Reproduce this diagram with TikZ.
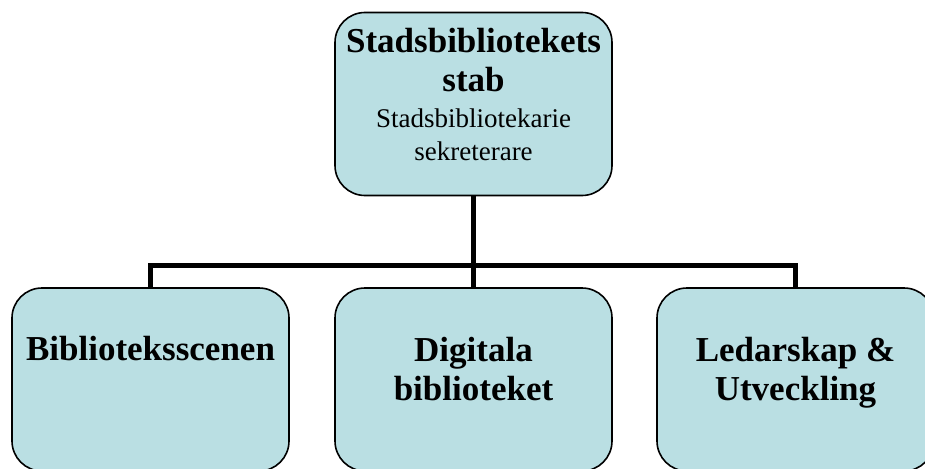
\documentclass[tikz,border=0pt]{standalone}
\usepackage{fontspec}
\setmainfont{Liberation Serif}
\definecolor{boxfill}{HTML}{BADFE3}
\begin{document}
\begin{tikzpicture}[x=1pt,y=-1pt,
  box/.style={draw=black, line width=1.6pt, fill=boxfill, rounded corners=30pt,
    minimum width=277pt, minimum height=183pt, inner sep=0pt},
  conn/.style={line width=5pt, draw=black},
  head/.style={font=\fontsize{35}{39}\selectfont\bfseries, align=center, inner sep=0pt, anchor=base},
  sub/.style={font=\fontsize{27}{33}\selectfont, align=center, inner sep=0pt, anchor=base}]
\useasboundingbox (0,0) rectangle (925,468);
\clip (0,0) rectangle (925,468);
% boxes
\node[box] (top) at (473.5,104) {};
\node[box] (lft) at (150.5,379.5) {};
\node[box] (mid) at (473.5,379.5) {};
\node[box] (rgt) at (795.5,379.5) {};
% connectors
\coordinate (bus) at (473.5,265);
\draw[conn] (top.south) -- (bus);
\draw[conn] (lft.north) |- (bus) -| (rgt.north);
\draw[conn] (bus) -- (mid.north);
% texts
\node[head] (toptitle) at (473.5,92) {Stadsbibliotekets\\stab};
\node[sub] (topsub) at (473.5,160) {Stadsbibliotekarie\\sekreterare};
\node[head] (lfttext) at (150.5,360) {Biblioteksscenen};
\node[head] (midtext) at (473.5,400) {Digitala\\biblioteket};
\node[head] (rgttext) at (795.5,400) {Ledarskap \&\\Utveckling};
\end{tikzpicture}
\end{document}
